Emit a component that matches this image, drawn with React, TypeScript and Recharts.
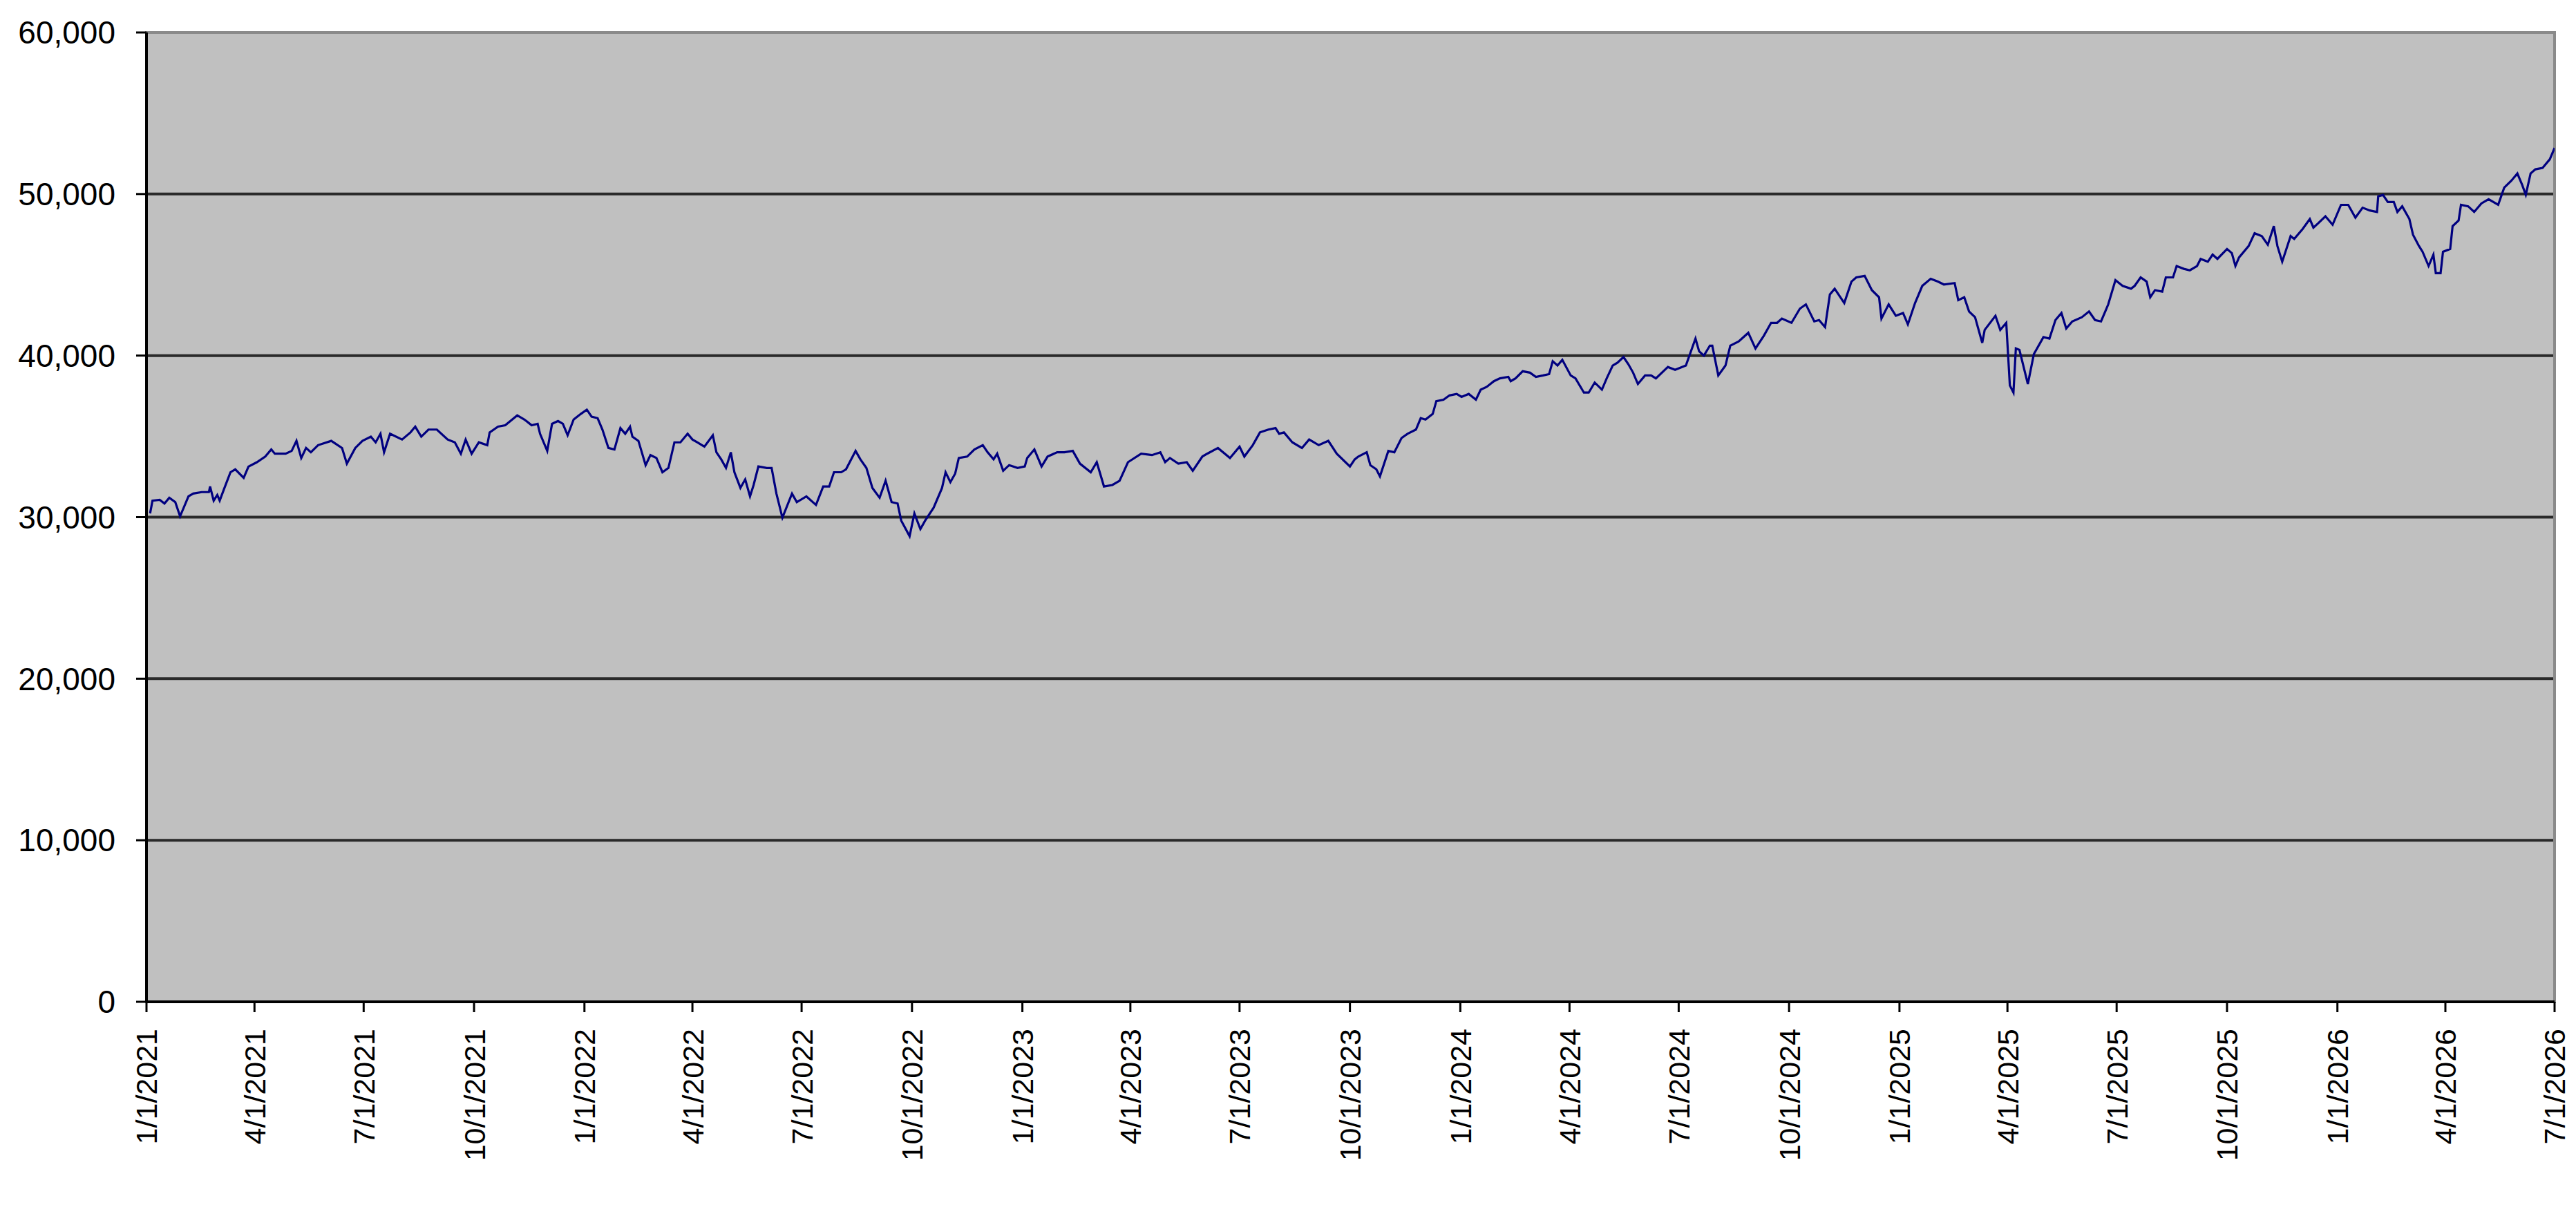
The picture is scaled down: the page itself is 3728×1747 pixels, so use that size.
import React from "react";
import {
  CartesianGrid,
  Line,
  LineChart,
  ReferenceArea,
  XAxis,
  YAxis,
} from "recharts";

// values, one array per year: [date, value]
const series2021: [string, number][] = [
  ["2021-01-04", 30230], ["2021-01-06", 31020], ["2021-01-12", 31070], ["2021-01-16", 30845],
  ["2021-01-20", 31200], ["2021-01-25", 30930], ["2021-01-29", 30050], ["2021-02-05", 31285],
  ["2021-02-09", 31460], ["2021-02-16", 31550], ["2021-02-22", 31550], ["2021-02-23", 31900],
  ["2021-02-26", 31020], ["2021-03-01", 31370], ["2021-03-03", 31020], ["2021-03-07", 31810],
  ["2021-03-12", 32780], ["2021-03-16", 32960], ["2021-03-23", 32430], ["2021-03-27", 33130],
  ["2021-04-03", 33400], ["2021-04-10", 33750], ["2021-04-15", 34190], ["2021-04-18", 33925],
  ["2021-04-27", 33925], ["2021-05-02", 34100], ["2021-05-06", 34720], ["2021-05-10", 33660],
  ["2021-05-14", 34280], ["2021-05-18", 34015], ["2021-05-24", 34455], ["2021-06-04", 34720],
  ["2021-06-13", 34280], ["2021-06-17", 33310], ["2021-06-24", 34280], ["2021-06-30", 34720],
  ["2021-07-07", 34980], ["2021-07-11", 34630], ["2021-07-15", 35160], ["2021-07-18", 34015],
  ["2021-07-23", 35160], ["2021-08-02", 34805], ["2021-08-09", 35245], ["2021-08-13", 35600],
  ["2021-08-18", 34980], ["2021-08-24", 35420], ["2021-08-31", 35420], ["2021-09-09", 34805],
  ["2021-09-15", 34630], ["2021-09-20", 33925], ["2021-09-24", 34805], ["2021-09-29", 33925],
  ["2021-10-05", 34630], ["2021-10-12", 34455], ["2021-10-14", 35245], ["2021-10-21", 35600],
  ["2021-10-27", 35690], ["2021-11-06", 36300], ["2021-11-12", 36040], ["2021-11-18", 35690],
  ["2021-11-23", 35775], ["2021-11-25", 35160], ["2021-12-01", 34100], ["2021-12-05", 35775],
  ["2021-12-10", 35950], ["2021-12-14", 35775], ["2021-12-18", 35070], ["2021-12-23", 36040],
  ["2021-12-29", 36390],
];

const series2022: [string, number][] = [
  ["2022-01-03", 36655], ["2022-01-07", 36215], ["2022-01-12", 36125], ["2022-01-16", 35420],
  ["2022-01-21", 34280], ["2022-01-26", 34190], ["2022-01-31", 35510], ["2022-02-04", 35160],
  ["2022-02-08", 35600], ["2022-02-10", 34980], ["2022-02-15", 34720], ["2022-02-21", 33220],
  ["2022-02-25", 33840], ["2022-03-02", 33660], ["2022-03-07", 32780], ["2022-03-12", 33045],
  ["2022-03-17", 34630], ["2022-03-22", 34630], ["2022-03-28", 35160], ["2022-04-01", 34805],
  ["2022-04-05", 34630], ["2022-04-11", 34365], ["2022-04-18", 35070], ["2022-04-21", 34015],
  ["2022-04-25", 33575], ["2022-04-29", 33045], ["2022-05-03", 34015], ["2022-05-06", 32780],
  ["2022-05-11", 31810], ["2022-05-15", 32340], ["2022-05-19", 31285], ["2022-05-22", 31990],
  ["2022-05-26", 33135], ["2022-06-02", 33045], ["2022-06-06", 33045], ["2022-06-10", 31460],
  ["2022-06-15", 29965], ["2022-06-23", 31460], ["2022-06-27", 30930], ["2022-07-05", 31285],
  ["2022-07-13", 30755], ["2022-07-19", 31900], ["2022-07-24", 31900], ["2022-07-28", 32780],
  ["2022-08-03", 32780], ["2022-08-07", 32960], ["2022-08-15", 34100], ["2022-08-19", 33575],
  ["2022-08-24", 33045], ["2022-08-29", 31810], ["2022-09-04", 31200], ["2022-09-09", 32250],
  ["2022-09-14", 30930], ["2022-09-19", 30845], ["2022-09-22", 29790], ["2022-09-29", 28820],
  ["2022-10-03", 30230], ["2022-10-08", 29260], ["2022-10-12", 29790], ["2022-10-19", 30580],
  ["2022-10-26", 31800], ["2022-10-29", 32780], ["2022-11-02", 32165], ["2022-11-06", 32695],
  ["2022-11-09", 33660], ["2022-11-16", 33750], ["2022-11-22", 34190], ["2022-11-29", 34455],
  ["2022-12-03", 34015], ["2022-12-08", 33575], ["2022-12-11", 33925], ["2022-12-16", 32870],
  ["2022-12-21", 33220], ["2022-12-28", 33045],
];

const series2023: [string, number][] = [
  ["2023-01-03", 33135], ["2023-01-05", 33660], ["2023-01-11", 34190], ["2023-01-17", 33135],
  ["2023-01-22", 33750], ["2023-01-30", 34015], ["2023-02-05", 34015], ["2023-02-12", 34100],
  ["2023-02-18", 33310], ["2023-02-27", 32780], ["2023-03-04", 33400], ["2023-03-10", 31900],
  ["2023-03-17", 31990], ["2023-03-23", 32250], ["2023-03-30", 33400], ["2023-04-10", 33925],
  ["2023-04-19", 33840], ["2023-04-26", 34015], ["2023-04-30", 33400], ["2023-05-04", 33660],
  ["2023-05-11", 33310], ["2023-05-18", 33400], ["2023-05-23", 32870], ["2023-05-31", 33750],
  ["2023-06-04", 33925], ["2023-06-13", 34280], ["2023-06-23", 33660], ["2023-07-01", 34365],
  ["2023-07-05", 33750], ["2023-07-12", 34455], ["2023-07-18", 35245], ["2023-07-25", 35420],
  ["2023-07-31", 35510], ["2023-08-03", 35160], ["2023-08-07", 35245], ["2023-08-14", 34630],
  ["2023-08-22", 34280], ["2023-08-28", 34805], ["2023-09-05", 34455], ["2023-09-13", 34720],
  ["2023-09-20", 33925], ["2023-10-01", 33135], ["2023-10-05", 33575], ["2023-10-08", 33750],
  ["2023-10-15", 34015], ["2023-10-18", 33220], ["2023-10-23", 32960], ["2023-10-26", 32520],
  ["2023-11-02", 34100], ["2023-11-07", 34015], ["2023-11-13", 34895], ["2023-11-18", 35160],
  ["2023-11-25", 35420], ["2023-11-29", 36125], ["2023-12-03", 36040], ["2023-12-09", 36390],
  ["2023-12-12", 37180], ["2023-12-18", 37270], ["2023-12-23", 37535], ["2023-12-29", 37625],
];

const series2024: [string, number][] = [
  ["2024-01-02", 37445], ["2024-01-08", 37625], ["2024-01-14", 37270], ["2024-01-18", 37890],
  ["2024-01-23", 38065], ["2024-01-29", 38415], ["2024-02-03", 38590], ["2024-02-10", 38680],
  ["2024-02-12", 38415], ["2024-02-16", 38590], ["2024-02-22", 39030], ["2024-02-28", 38945],
  ["2024-03-04", 38680], ["2024-03-10", 38770], ["2024-03-15", 38855], ["2024-03-18", 39650],
  ["2024-03-22", 39385], ["2024-03-26", 39735], ["2024-04-02", 38770], ["2024-04-06", 38590],
  ["2024-04-13", 37710], ["2024-04-17", 37710], ["2024-04-22", 38330], ["2024-04-28", 37890],
  ["2024-05-02", 38590], ["2024-05-07", 39385], ["2024-05-11", 39560], ["2024-05-16", 39910],
  ["2024-05-20", 39470], ["2024-05-24", 38945], ["2024-05-28", 38240], ["2024-06-03", 38770],
  ["2024-06-08", 38770], ["2024-06-12", 38590], ["2024-06-22", 39295], ["2024-06-28", 39120],
  ["2024-07-07", 39385], ["2024-07-15", 41055], ["2024-07-18", 40265], ["2024-07-22", 40000],
  ["2024-07-27", 40615], ["2024-07-29", 40615], ["2024-08-03", 38770], ["2024-08-09", 39385],
  ["2024-08-13", 40615], ["2024-08-20", 40880], ["2024-08-28", 41410], ["2024-09-03", 40440],
  ["2024-09-10", 41230], ["2024-09-16", 42025], ["2024-09-21", 42025], ["2024-09-25", 42290],
  ["2024-10-03", 42025], ["2024-10-10", 42905], ["2024-10-15", 43170], ["2024-10-22", 42115],
  ["2024-10-26", 42200], ["2024-10-31", 41760], ["2024-11-04", 43785], ["2024-11-08", 44140],
  ["2024-11-16", 43255], ["2024-11-22", 44580], ["2024-11-26", 44840], ["2024-12-03", 44930],
  ["2024-12-09", 44050], ["2024-12-15", 43610], ["2024-12-17", 42290], ["2024-12-23", 43170],
  ["2024-12-29", 42465],
];

const series2025: [string, number][] = [
  ["2025-01-04", 42640], ["2025-01-08", 41935], ["2025-01-14", 43255], ["2025-01-20", 44315],
  ["2025-01-27", 44755], ["2025-02-02", 44580], ["2025-02-07", 44400], ["2025-02-16", 44490],
  ["2025-02-19", 43435], ["2025-02-24", 43610], ["2025-02-28", 42730], ["2025-03-05", 42375],
  ["2025-03-11", 40790], ["2025-03-13", 41585], ["2025-03-22", 42465], ["2025-03-26", 41585],
  ["2025-03-31", 42025], ["2025-04-03", 38150], ["2025-04-06", 37710], ["2025-04-08", 40440],
  ["2025-04-11", 40350], ["2025-04-18", 38240], ["2025-04-23", 40090], ["2025-05-01", 41145],
  ["2025-05-06", 41055], ["2025-05-11", 42200], ["2025-05-16", 42640], ["2025-05-20", 41675],
  ["2025-05-25", 42115], ["2025-06-02", 42375], ["2025-06-08", 42730], ["2025-06-13", 42200],
  ["2025-06-18", 42115], ["2025-06-24", 43170], ["2025-06-30", 44665], ["2025-07-06", 44315],
  ["2025-07-13", 44140], ["2025-07-16", 44315], ["2025-07-21", 44840], ["2025-07-26", 44580],
  ["2025-07-29", 43610], ["2025-08-02", 44050], ["2025-08-08", 43960], ["2025-08-11", 44840],
  ["2025-08-17", 44840], ["2025-08-20", 45545], ["2025-08-26", 45370], ["2025-08-31", 45280],
  ["2025-09-06", 45545], ["2025-09-09", 45985], ["2025-09-15", 45810], ["2025-09-19", 46250],
  ["2025-09-23", 45985], ["2025-10-01", 46600], ["2025-10-05", 46340], ["2025-10-08", 45545],
  ["2025-10-11", 46075], ["2025-10-19", 46780], ["2025-10-24", 47570], ["2025-10-30", 47395],
  ["2025-11-04", 46865], ["2025-11-09", 48010], ["2025-11-12", 46780], ["2025-11-16", 45810],
  ["2025-11-23", 47395], ["2025-11-26", 47220], ["2025-12-03", 47835], ["2025-12-09", 48450],
  ["2025-12-12", 47920], ["2025-12-16", 48190], ["2025-12-22", 48625], ["2025-12-28", 48100],
];

const series2026: [string, number][] = [
  ["2026-01-04", 49330], ["2026-01-10", 49330], ["2026-01-16", 48540], ["2026-01-22", 49155],
  ["2026-01-28", 48980], ["2026-02-03", 48890], ["2026-02-04", 49860], ["2026-02-08", 49945],
  ["2026-02-12", 49505], ["2026-02-17", 49505], ["2026-02-20", 48890], ["2026-02-24", 49240],
  ["2026-03-02", 48450], ["2026-03-05", 47485], ["2026-03-10", 46780], ["2026-03-13", 46425],
  ["2026-03-18", 45545], ["2026-03-22", 46250], ["2026-03-24", 45105], ["2026-03-28", 45105],
  ["2026-03-30", 46425], ["2026-04-05", 46600], ["2026-04-07", 48010], ["2026-04-12", 48360],
  ["2026-04-14", 49330], ["2026-04-20", 49240], ["2026-04-25", 48890], ["2026-05-01", 49420],
  ["2026-05-07", 49680], ["2026-05-15", 49330], ["2026-05-20", 50390], ["2026-05-26", 50830],
  ["2026-05-31", 51270], ["2026-06-04", 50565], ["2026-06-07", 49945], ["2026-06-11", 51270],
  ["2026-06-15", 51530], ["2026-06-21", 51620], ["2026-06-27", 52150], ["2026-07-01", 52850],
];

const xTickLabels = [
  "1/1/2021", "4/1/2021", "7/1/2021", "10/1/2021",
  "1/1/2022", "4/1/2022", "7/1/2022", "10/1/2022",
  "1/1/2023", "4/1/2023", "7/1/2023", "10/1/2023",
  "1/1/2024", "4/1/2024", "7/1/2024", "10/1/2024",
  "1/1/2025", "4/1/2025", "7/1/2025", "10/1/2025",
  "1/1/2026", "4/1/2026", "7/1/2026",
];

const yTicks = [0, 10000, 20000, 30000, 40000, 50000, 60000];

const FONT = "'Liberation Sans', Arial, sans-serif";

const toTime = (label: string) => {
  const [m, d, y] = label.split("/").map(Number);
  return Date.UTC(y, m - 1, d);
};

const fmtDate = (t: number) => {
  const d = new Date(t);
  return `${d.getUTCMonth() + 1}/${d.getUTCDate()}/${d.getUTCFullYear()}`;
};

const data = [
  ...series2021,
  ...series2022,
  ...series2023,
  ...series2024,
  ...series2025,
  ...series2026,
].map(([date, value]) => ({ t: Date.parse(date), value }));

const xTicks = xTickLabels.map(toTime);
const xStart = xTicks[0];
const xEnd = xTicks[xTicks.length - 1];

const DateTick = (props: any) => {
  const { x, y, payload } = props;
  return (
    <g transform={`translate(${x},${y})`}>
      <text
        x={0}
        y={0}
        dy="0.36em"
        textAnchor="end"
        transform="rotate(-90)"
        fill="#000"
        fontSize={43}
        fontFamily={FONT}
      >
        {fmtDate(payload.value)}
      </text>
    </g>
  );
};

const App = () => {
  return (
    <div
      style={{
        position: "absolute",
        left: 0,
        top: 0,
        width: 3728,
        height: 1747,
        background: "#fff",
      }}
    >
      <LineChart
        width={3728}
        height={1747}
        data={data}
        margin={{ top: 47, right: 31, left: 0, bottom: 0 }}
      >
        <CartesianGrid
          vertical={false}
          horizontalValues={[10000, 20000, 30000, 40000, 50000]}
          fill="#c0c0c0"
          fillOpacity={1}
          stroke="#2a2a2a"
          strokeWidth={4}
        />
        <ReferenceArea
          x1={xStart}
          x2={xEnd}
          y1={0}
          y2={60000}
          fill="none"
          stroke="#8a8a8a"
          strokeWidth={4}
          ifOverflow="visible"
        />
        <XAxis
          dataKey="t"
          type="number"
          domain={[xStart, xEnd]}
          ticks={xTicks}
          interval={0}
          height={297}
          tick={<DateTick />}
          tickSize={15}
          tickMargin={24}
          axisLine={{ stroke: "#000", strokeWidth: 4 }}
          tickLine={{ stroke: "#000", strokeWidth: 3 }}
          allowDataOverflow
        />
        <YAxis
          type="number"
          domain={[0, 60000]}
          ticks={yTicks}
          width={212}
          tickSize={15}
          tickMargin={30}
          tickFormatter={(v: number) => v.toLocaleString("en-US")}
          tick={{ fill: "#000", fontSize: 46, fontFamily: FONT }}
          axisLine={{ stroke: "#000", strokeWidth: 4 }}
          tickLine={{ stroke: "#000", strokeWidth: 3 }}
        />
        <Line
          type="linear"
          dataKey="value"
          stroke="#000080"
          strokeWidth={3.2}
          dot={false}
          activeDot={false}
          isAnimationActive={false}
        />
      </LineChart>
    </div>
  );
};

export default App;
